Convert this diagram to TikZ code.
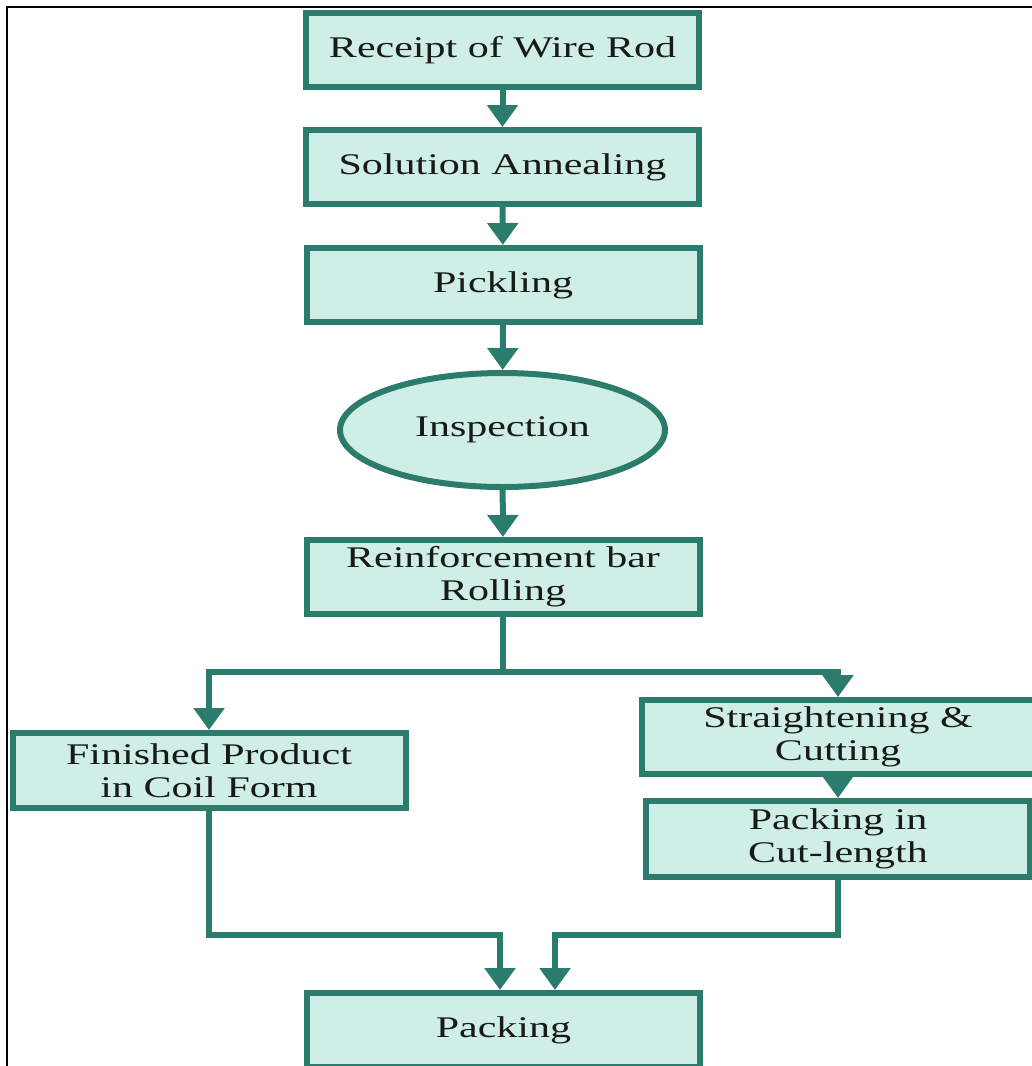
\documentclass[tikz,border=0pt]{standalone}
\usepackage{fontspec}
\setmainfont{Liberation Serif}[FakeStretch=1.4]
\usetikzlibrary{shapes.geometric,arrows.meta}
\definecolor{flowteal}{RGB}{44,124,110}
\definecolor{flowmint}{RGB}{206,238,230}
\definecolor{flowtext}{RGB}{25,25,25}

\begin{document}
\begin{tikzpicture}[x=1pt,y=-1pt,
  stepbox/.style={draw=flowteal, fill=flowmint, line width=6pt, inner sep=0pt,
    minimum width=393pt, minimum height=74pt, align=center, text=flowtext,
    font=\fontsize{30}{33}\selectfont},
  checkoval/.style={stepbox, ellipse, minimum width=325pt, minimum height=114pt},
  flow/.style={draw=flowteal, line width=6pt, -{Triangle[width=30pt,length=22pt]}},
  link/.style={draw=flowteal, line width=6pt}]
\useasboundingbox (0,0) rectangle (1032,1066);
\clip (0,0) rectangle (1032,1066);
% page frame
\draw[line width=2pt] (6,7) -- (1032,7);
\draw[line width=2pt] (7,7) -- (7,1066);

% main line
\node[stepbox] (rcpt) at (502.5,50) {Receipt of Wire Rod};
\node[stepbox] (anneal) at (502.5,167) {Solution Annealing};
\node[stepbox] (pickle) at (503,285) {Pickling};
\node[checkoval] (insp) at (502.5,430) {Inspection};
\node[stepbox] (rolling) at (503,577) {Reinforcement bar\\Rolling};

% two branches
\node[stepbox, minimum height=75pt] (coil) at (209,770.5) {Finished Product\\in Coil Form};
\node[stepbox] (straight) at (838,737) {Straightening \&\\Cutting};
\node[stepbox, minimum width=384pt, minimum height=76pt] (cutpack) at (838,839) {Packing in\\Cut-length};
\node[stepbox] (pack) at (503.5,1030) {Packing};

\coordinate (split) at (503,672);
\coordinate (joinl) at (500,935);
\coordinate (joinr) at (555,935);

\draw[flow] (rcpt) -- (anneal);
\draw[flow] (anneal) -- (pickle);
\draw[flow] (pickle) -- (insp);
\draw[flow] (insp) -- (rolling);
\draw[link] (rolling.south) -- (split);
\draw[flow] (split) -| (coil.north);
\draw[flow] (split) -| (straight.north);
\draw[flow] (straight) -- (cutpack);
\draw[flow] (coil.south) |- (joinl) -- (joinl |- pack.north);
\draw[flow] (cutpack.south) |- (joinr) -- (joinr |- pack.north);
\end{tikzpicture}
\end{document}
